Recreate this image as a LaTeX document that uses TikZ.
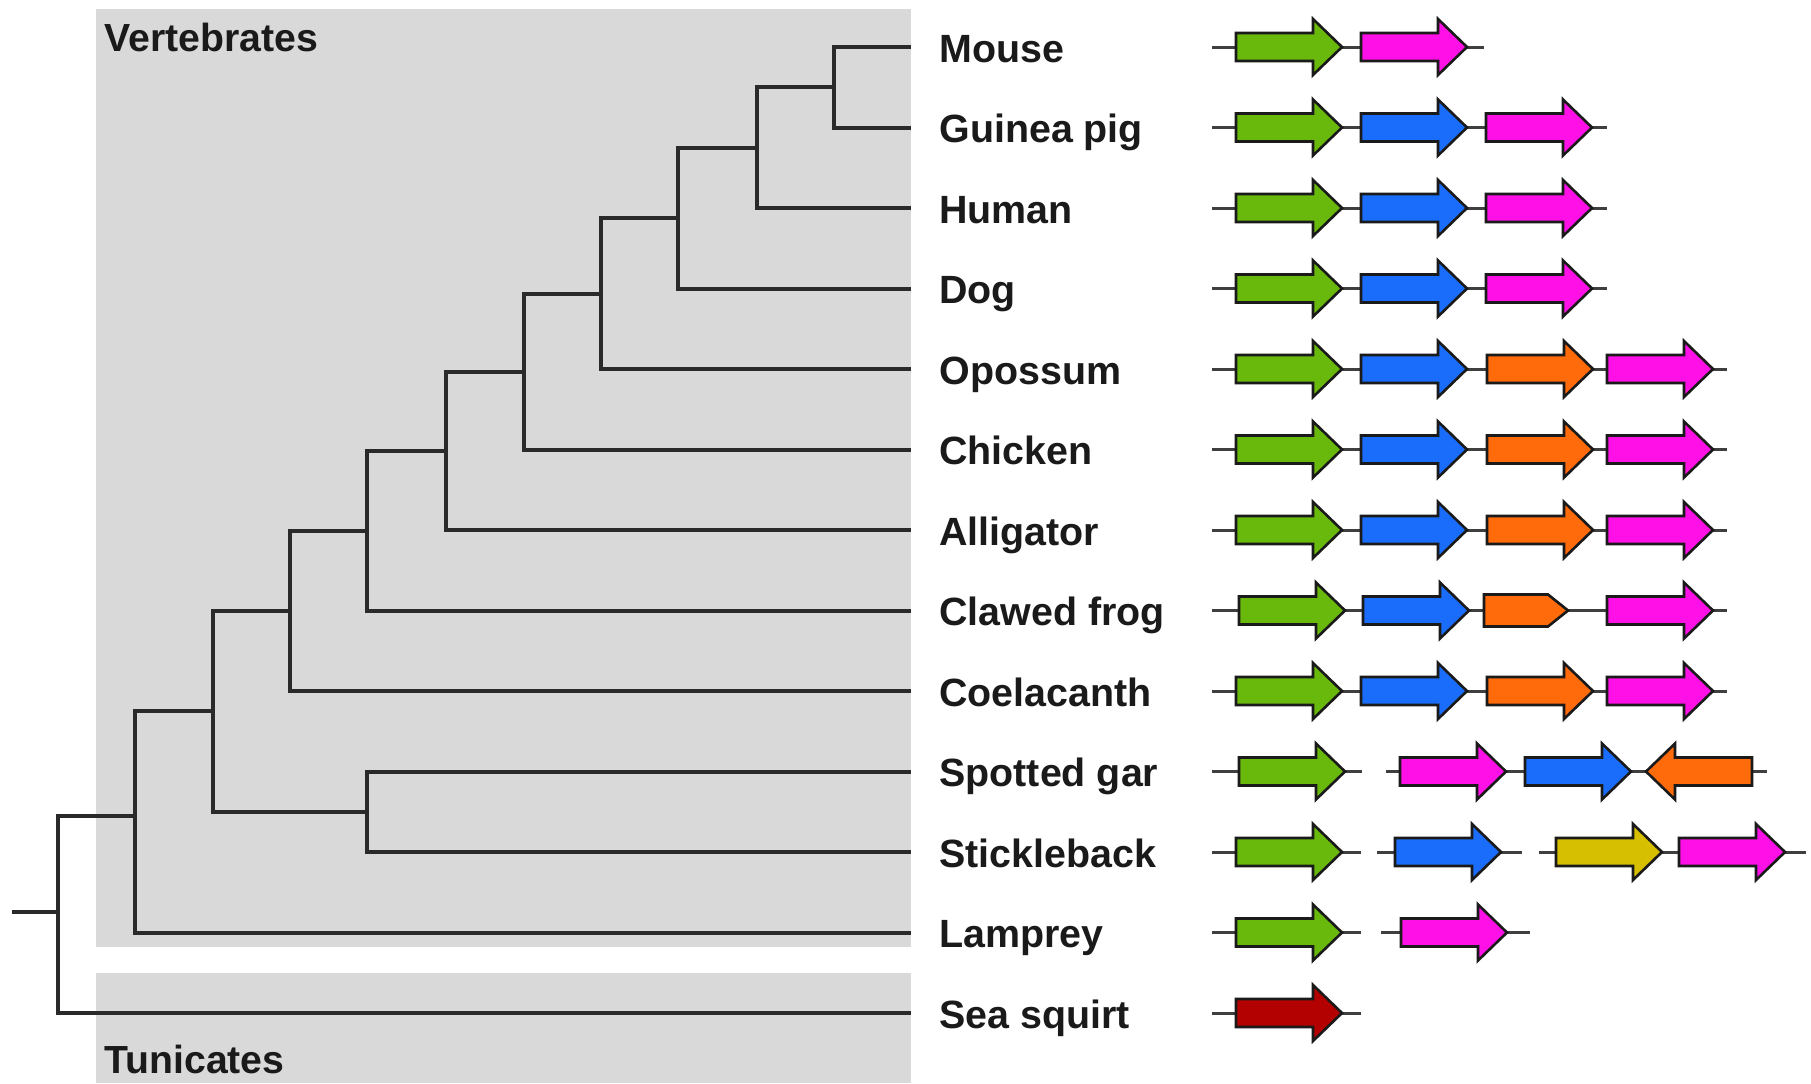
\documentclass[tikz,border=0pt]{standalone}
\usepackage{fontspec}
\setmainfont{Liberation Sans}
\definecolor{bggray}{HTML}{D9D9D9}
\definecolor{cgreen}{HTML}{69B80C}
\definecolor{cblue}{HTML}{1A6DFA}
\definecolor{cmag}{HTML}{FF10E6}
\definecolor{corange}{HTML}{FF6A0A}
\definecolor{cyellow}{HTML}{D6BE00}
\definecolor{cred}{HTML}{B30000}
\definecolor{ink}{HTML}{1A1A1A}
\definecolor{treeink}{HTML}{2A2A2A}
\begin{document}
\begin{tikzpicture}[x=0.5pt,y=-0.5pt,
  branch/.style={draw=treeink, line width=2pt, line join=miter},
  backbone/.style={draw=treeink!90, line width=1.5pt},
  geneline/.style={draw=ink, line width=1.3pt, line join=miter},
  leaf/.style={anchor=base west, inner sep=0pt, text=ink, font=\fontsize{19.7}{24}\selectfont\bfseries},
  group/.style={anchor=base west, inner sep=0pt, text=ink, font=\fontsize{19.6}{24}\selectfont\bfseries},
  gene/.pic={\draw[geneline, fill=#1] (0,-14) -- (77,-14) -- (77,-28) -- (106,0) -- (77,28) -- (77,14) -- (0,14) -- cycle;},
  genel/.pic={\draw[geneline, fill=#1] (106,-14) -- (29,-14) -- (29,-28) -- (0,0) -- (29,28) -- (29,14) -- (106,14) -- cycle;},
  genet/.pic={\draw[geneline, fill=#1] (0,-16) -- (64,-16) -- (84,0) -- (64,16) -- (0,16) -- cycle;}
]
\useasboundingbox (0,0) rectangle (1811,1083);
% clade backgrounds
\fill[bggray] (96,9) rectangle (911,947);
\fill[bggray] (96,973) rectangle (911,1083);
\node[group] (vert) at (104,51) {Vertebrates};
\node[group] (tuni) at (104,1073) {Tunicates};

% leaf labels
\node[leaf] (Mouse) at (939,62) {Mouse};
\node[leaf] (Guinea) at (939,142.5) {Guinea pig};
\node[leaf] (Human) at (939,223) {Human};
\node[leaf] (Dog) at (939,303.5) {Dog};
\node[leaf] (Opossum) at (939,384) {Opossum};
\node[leaf] (Chicken) at (939,464.5) {Chicken};
\node[leaf] (Alligator) at (939,545) {Alligator};
\node[leaf] (Frog) at (939,625.5) {Clawed frog};
\node[leaf] (Coel) at (939,706) {Coelacanth};
\node[leaf] (Gar) at (939,786.5) {Spotted gar};
\node[leaf] (Stickle) at (939,867) {Stickleback};
\node[leaf] (Lamprey) at (939,947.5) {Lamprey};
\node[leaf] (Squirt) at (939,1028) {Sea squirt};

% branch tips
\coordinate (tMouse) at (911,47);
\coordinate (tGuinea) at (911,127.5);
\coordinate (tHuman) at (911,208);
\coordinate (tDog) at (911,288.5);
\coordinate (tOpossum) at (911,369);
\coordinate (tChicken) at (911,449.5);
\coordinate (tAlligator) at (911,530);
\coordinate (tFrog) at (911,610.5);
\coordinate (tCoel) at (911,691);
\coordinate (tGar) at (911,771.5);
\coordinate (tStickle) at (911,852);
\coordinate (tLamprey) at (911,932.5);
\coordinate (tSquirt) at (911,1013);

% internal nodes
\coordinate (n10) at (834,87.25);
\coordinate (n9) at (756.5,147.6);
\coordinate (n8) at (678,218);
\coordinate (n7) at (600.6,293.5);
\coordinate (n6) at (524,371.5);
\coordinate (n5) at (446,450.8);
\coordinate (n4) at (367,530.6);
\coordinate (n3) at (290,610.8);
\coordinate (ng) at (367,811.8);
\coordinate (n2) at (212.5,711.3);
\coordinate (n1) at (135,816);
\coordinate (n0) at (57.8,912);
\coordinate (root) at (12,912);

% tree
\draw[branch] (n10) |- (tMouse);
\draw[branch] (n10) |- (tGuinea);
\draw[branch] (n9) |- (n10);
\draw[branch] (n9) |- (tHuman);
\draw[branch] (n8) |- (n9);
\draw[branch] (n8) |- (tDog);
\draw[branch] (n7) |- (n8);
\draw[branch] (n7) |- (tOpossum);
\draw[branch] (n6) |- (n7);
\draw[branch] (n6) |- (tChicken);
\draw[branch] (n5) |- (n6);
\draw[branch] (n5) |- (tAlligator);
\draw[branch] (n4) |- (n5);
\draw[branch] (n4) |- (tFrog);
\draw[branch] (n3) |- (n4);
\draw[branch] (n3) |- (tCoel);
\draw[branch] (ng) |- (tGar);
\draw[branch] (ng) |- (tStickle);
\draw[branch] (n2) |- (n3);
\draw[branch] (n2) |- (ng);
\draw[branch] (n1) |- (n2);
\draw[branch] (n1) |- (tLamprey);
\draw[branch] (n0) |- (n1);
\draw[branch] (n0) |- (tSquirt);
\draw[branch] (root) -- (n0);

% gene neighbourhoods
% Mouse
\draw[backbone] (1212,47) -- (1484,47);
\pic at (1236,47) {gene=cgreen};
\pic at (1361,47) {gene=cmag};
% Guinea pig, Human, Dog
\foreach \y in {127.5,208,288.5}{
  \draw[backbone] (1212,\y) -- (1607,\y);
  \pic at (1236,\y) {gene=cgreen};
  \pic at (1361,\y) {gene=cblue};
  \pic at (1486,\y) {gene=cmag};
}
% Opossum, Chicken, Alligator, Coelacanth
\foreach \y in {369,449.5,530,691}{
  \draw[backbone] (1212,\y) -- (1727,\y);
  \pic at (1236,\y) {gene=cgreen};
  \pic at (1361,\y) {gene=cblue};
  \pic at (1487,\y) {gene=corange};
  \pic at (1607,\y) {gene=cmag};
}
% Clawed frog
\draw[backbone] (1212,610.5) -- (1727,610.5);
\pic at (1239,610.5) {gene=cgreen};
\pic at (1363,610.5) {gene=cblue};
\pic at (1484,610.5) {genet=corange};
\pic at (1607,610.5) {gene=cmag};
% Spotted gar
\draw[backbone] (1212,771.5) -- (1362,771.5);
\draw[backbone] (1386,771.5) -- (1767,771.5);
\pic at (1239,771.5) {gene=cgreen};
\pic at (1400,771.5) {gene=cmag};
\pic at (1525,771.5) {gene=cblue};
\pic at (1646,771.5) {genel=corange};
% Stickleback
\draw[backbone] (1212,852) -- (1361,852);
\draw[backbone] (1377,852) -- (1522,852);
\draw[backbone] (1539,852) -- (1806,852);
\pic at (1236,852) {gene=cgreen};
\pic at (1395,852) {gene=cblue};
\pic at (1556,852) {gene=cyellow};
\pic at (1679,852) {gene=cmag};
% Lamprey
\draw[backbone] (1212,932.5) -- (1361,932.5);
\draw[backbone] (1381,932.5) -- (1530,932.5);
\pic at (1236,932.5) {gene=cgreen};
\pic at (1401,932.5) {gene=cmag};
% Sea squirt
\draw[backbone] (1212,1013) -- (1361,1013);
\pic at (1236,1013) {gene=cred};
\end{tikzpicture}
\end{document}
